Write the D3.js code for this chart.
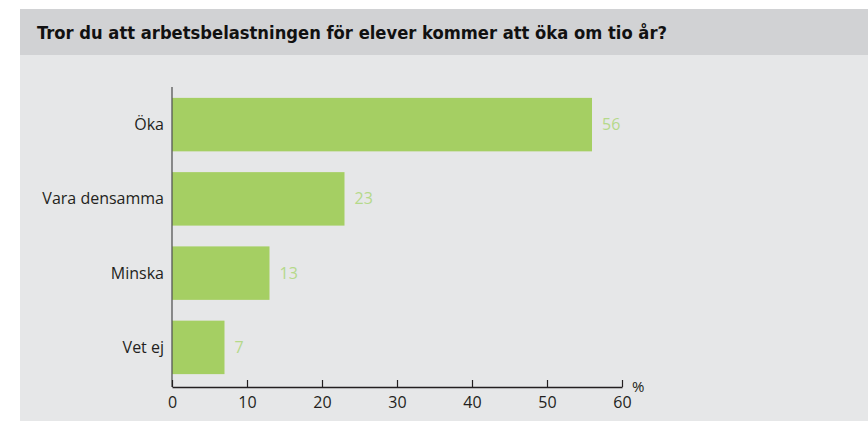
<!DOCTYPE html>
<html><head><meta charset="utf-8">
<script src="https://cdn.jsdelivr.net/npm/d3@7"></script>
<style>body{margin:0;background:#fff}svg{display:block}</style>
</head><body>
<script>
const title = "Tror du att arbetsbelastningen för elever kommer att öka om tio år?";
const categories = ["Öka", "Vara densamma", "Minska", "Vet ej"];
const values = [56, 23, 13, 7];
const xTicks = [0, 10, 20, 30, 40, 50, 60];
const unit = "%";

const W = 868, H = 421;
const svg = d3.select("body").append("svg").attr("width", W).attr("height", H);
svg.append("rect").attr("x", 20).attr("y", 55).attr("width", W - 20).attr("height", 366).attr("fill", "#e6e7e8");
svg.append("rect").attr("x", 20).attr("y", 9).attr("width", W - 20).attr("height", 46).attr("fill", "#d1d2d4");
svg.append("text").attr("x", 37).attr("y", 39).text(title)
  .attr("font-family", "DejaVu Sans Condensed, DejaVu Sans").attr("font-weight", "bold")
  .attr("font-size", 18).attr("fill", "#111").attr("textLength", 630).attr("lengthAdjust", "spacingAndGlyphs");

const x = d3.scaleLinear().domain([0, 60]).range([172, 622]);
const y = d3.scaleBand().domain(categories).range([86, 386]).paddingInner(0.28).paddingOuter(0.16);

const font = "Open Sans, sans-serif";
svg.selectAll("rect.bar").data(values).join("rect").attr("class", "bar")
  .attr("x", x(0)).attr("y", (d, i) => y(categories[i]))
  .attr("width", d => x(d) - x(0)).attr("height", y.bandwidth()).attr("fill", "#a5cf63");

svg.selectAll("text.val").data(values).join("text").attr("class", "val")
  .attr("x", d => x(d) + 10).attr("y", (d, i) => y(categories[i]) + y.bandwidth() / 2)
  .attr("dy", "0.35em").text(d => d).attr("font-family", font).attr("font-size", 16).attr("fill", "#b5d98a");

svg.selectAll("text.cat").data(categories).join("text").attr("class", "cat")
  .attr("x", 164).attr("y", d => y(d) + y.bandwidth() / 2).attr("dy", "0.35em")
  .attr("text-anchor", "end").text(d => d).attr("font-family", font).attr("font-size", 16).attr("fill", "#231f20");

// y axis line
svg.append("line").attr("x1", 172).attr("x2", 172).attr("y1", 87).attr("y2", 387).attr("stroke", "#555").attr("stroke-width", 1.3);

// x axis
const ax = svg.append("g").attr("transform", "translate(0,387)")
  .call(d3.axisBottom(x).tickValues(xTicks).tickSize(-7).tickSizeOuter(0).tickPadding(8));
ax.select(".domain").attr("stroke", "#231f20").attr("stroke-width", 1.3);
ax.selectAll(".tick line").attr("stroke", "#231f20").attr("stroke-width", 1.2);
ax.selectAll(".tick text").attr("font-family", font).attr("font-size", 16).attr("fill", "#231f20").attr("dy", "0.75em").attr("y", 9);
svg.append("text").attr("x", 632).attr("y", 392).text(unit).attr("font-family", font).attr("font-size", 15).attr("fill", "#231f20");
</script>
</body></html>
